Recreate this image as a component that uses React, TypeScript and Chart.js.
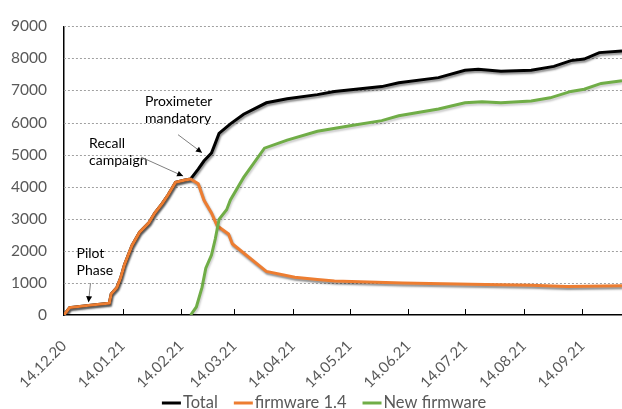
import React, { useEffect, useRef } from 'react';
import { Chart, registerables } from 'chart.js';

Chart.register(...registerables);

// x values are days since 14.12.20
const tickLabels = ['14.12.20', '14.01.21', '14.02.21', '14.03.21', '14.04.21', '14.05.21', '14.06.21', '14.07.21', '14.08.21', '14.09.21'];
const tickDays = [0, 31, 62, 90, 121, 151, 182, 212, 243, 274];
const lastDay = 295;

const totalDays = [0, 3, 13, 24, 25, 28, 30, 32, 34, 36, 40, 45, 48, 52, 55, 59, 64, 67, 71, 74, 78, 80, 82, 88, 95, 107, 118, 134, 143, 168, 177, 198, 212, 219, 231, 247, 259, 268, 275, 283, 295];
const totalValues = [0, 230, 300, 370, 660, 860, 1160, 1570, 1870, 2170, 2580, 2880, 3180, 3480, 3740, 4140, 4210, 4240, 4545, 4800, 5050, 5350, 5660, 5960, 6260, 6615, 6740, 6870, 6970, 7120, 7240, 7400, 7630, 7660, 7600, 7630, 7750, 7930, 7980, 8180, 8230];

const fw14Days = [0, 3, 13, 24, 25, 28, 30, 32, 34, 36, 40, 45, 48, 52, 55, 59, 64, 67, 71, 74, 78, 81, 87, 89, 107, 122, 134, 143, 179, 215, 247, 266, 295];
const fw14Values = [0, 230, 300, 370, 660, 860, 1160, 1570, 1870, 2170, 2580, 2880, 3180, 3480, 3740, 4140, 4210, 4240, 4090, 3585, 3180, 2780, 2525, 2220, 1360, 1180, 1110, 1060, 1000, 960, 930, 890, 910];

const newFwDays = [67, 70, 73, 75, 78, 80, 82, 86, 88, 95, 106, 118, 134, 152, 168, 177, 198, 212, 221, 231, 247, 257, 268, 275, 284, 295];
const newFwValues = [0, 250, 860, 1460, 1870, 2370, 2980, 3280, 3585, 4290, 5200, 5450, 5730, 5910, 6060, 6210, 6420, 6615, 6650, 6615, 6670, 6770, 6970, 7040, 7220, 7300];

const seriesNames = ['Total', 'firmware 1.4', 'New firmware'];
const seriesColors = ['#000000', '#ED7D31', '#70AD47'];

const annotations = [
  { lines: ['Pilot', 'Phase'], tipDay: 13, tipValue: 400 },
  { lines: ['Recall', 'campaign'], tipDay: 63, tipValue: 4330 },
  { lines: ['Proximeter', 'mandatory'], tipDay: 73, tipValue: 5060 },
];

const FONT = 'Lato, "Open Sans", sans-serif';

const pts = (xs: number[], ys: number[]) => xs.map((x, i) => ({ x, y: ys[i] }));

const gridPlugin = {
  id: 'dottedGrid',
  beforeDatasetsDraw(chart: any) {
    const ctx = chart.ctx;
    const ys = chart.scales.y;
    const area = chart.chartArea;
    ctx.save();
    ctx.strokeStyle = '#a0a0a0';
    ctx.lineWidth = 1;
    ctx.setLineDash([2, 2]);
    ys.ticks.forEach((_t: any, i: number) => {
      if (i === 0) return;
      const py = Math.round(ys.getPixelForTick(i)) + 0.5;
      ctx.beginPath();
      ctx.moveTo(area.left, py);
      ctx.lineTo(area.right, py);
      ctx.stroke();
    });
    ctx.restore();
  },
};

const shadowPlugin = {
  id: 'lineShadow',
  beforeDatasetDraw(chart: any, args: any) {
    const ctx = chart.ctx;
    ctx.save();
    const i = args.index;
    ctx.shadowColor = i === 2 ? 'rgba(0,0,0,0.2)' : 'rgba(0,0,0,0.45)';
    ctx.shadowBlur = 2;
    ctx.shadowOffsetX = 1;
    ctx.shadowOffsetY = 2;
  },
  afterDatasetDraw(chart: any) {
    chart.ctx.restore();
  },
};

const extrasPlugin = {
  id: 'extras',
  afterDraw(chart: any) {
    const ctx = chart.ctx;
    const xs = chart.scales.x;
    const ys = chart.scales.y;
    const area = chart.chartArea;
    ctx.save();
    // inside tick marks on x axis
    ctx.strokeStyle = '#000';
    ctx.lineWidth = 1;
    xs.ticks.forEach((_t: any, i: number) => {
      const px = Math.round(xs.getPixelForTick(i)) + 0.5;
      if (i === 0) return;
      ctx.beginPath();
      ctx.moveTo(px, area.bottom);
      ctx.lineTo(px, area.bottom - 6);
      ctx.stroke();
    });

    // annotations
    const offsets = [
      { tx: -12, ty: -49, sx: 2, sy: -19 },
      { tx: -94, ty: -33, sx: -42, sy: -19 },
      { tx: -57, ty: -51, sx: -24, sy: -18 },
    ];
    ctx.font = `14px ${FONT}`;
    ctx.textBaseline = 'middle';
    ctx.textAlign = 'left';
    annotations.forEach((a, k) => {
      const tipX = xs.getPixelForValue(a.tipDay);
      const tipY = ys.getPixelForValue(a.tipValue);
      const o = offsets[k];
      ctx.fillStyle = '#000';
      a.lines.forEach((ln, j) => ctx.fillText(ln, tipX + o.tx, tipY + o.ty + j * 17));
      const sx = tipX + o.sx;
      const sy = tipY + o.sy;
      ctx.strokeStyle = '#7f7f7f';
      ctx.lineWidth = 1;
      ctx.beginPath();
      ctx.moveTo(sx, sy);
      ctx.lineTo(tipX, tipY);
      ctx.stroke();
      const ang = Math.atan2(tipY - sy, tipX - sx);
      const L = 6, W = 3;
      ctx.fillStyle = '#000';
      ctx.beginPath();
      ctx.moveTo(tipX, tipY);
      ctx.lineTo(tipX - L * Math.cos(ang) + W * Math.sin(ang), tipY - L * Math.sin(ang) - W * Math.cos(ang));
      ctx.lineTo(tipX - L * Math.cos(ang) - W * Math.sin(ang), tipY - L * Math.sin(ang) + W * Math.cos(ang));
      ctx.closePath();
      ctx.fill();
    });

    // legend
    ctx.font = `16.5px ${FONT}`;
    const lineLen = 19, gapLT = 2, gapItems = 16;
    const widths = seriesNames.map((n) => lineLen + gapLT + ctx.measureText(n).width);
    const total = widths.reduce((a, b) => a + b, 0) + gapItems * (seriesNames.length - 1);
    let x = 324 - total / 2;
    const y = 403;
    seriesNames.forEach((n, i) => {
      ctx.strokeStyle = seriesColors[i];
      ctx.lineWidth = 3;
      ctx.beginPath();
      ctx.moveTo(x, y);
      ctx.lineTo(x + lineLen, y);
      ctx.stroke();
      ctx.fillStyle = '#595959';
      ctx.textBaseline = 'middle';
      ctx.fillText(n, x + lineLen + gapLT, y);
      x += widths[i] + gapItems;
    });
    ctx.restore();
  },
};

export default function App() {
  const ref = useRef<HTMLCanvasElement>(null);
  useEffect(() => {
    document.body.style.margin = '0';
    const canvas = ref.current!;
    const chart = new Chart(canvas, {
      type: 'line',
      data: {
        datasets: [
          { label: seriesNames[0], data: pts(totalDays, totalValues), borderColor: seriesColors[0], borderWidth: 3, pointRadius: 0, tension: 0, order: 2 },
          { label: seriesNames[1], data: pts(fw14Days, fw14Values), borderColor: seriesColors[1], borderWidth: 3, pointRadius: 0, tension: 0, order: 1 },
          { label: seriesNames[2], data: pts(newFwDays, newFwValues), borderColor: seriesColors[2], borderWidth: 3, pointRadius: 0, tension: 0, order: 0 },
        ],
      },
      options: {
        responsive: false,
        animation: false,
        layout: { padding: { top: 18, right: 0, bottom: 4, left: 0 } },
        plugins: { legend: { display: false }, tooltip: { enabled: false } },
        scales: {
          x: {
            type: 'linear',
            min: 0,
            max: lastDay,
            afterBuildTicks: (scale: any) => {
              scale.ticks = tickDays.map((v) => ({ value: v }));
            },
            afterFit: (scale: any) => {
              scale.height = 90;
            },
            grid: { display: false, drawTicks: false },
            border: { display: true, color: '#000', width: 1.5 },
            ticks: {
              autoSkip: false,
              minRotation: 45,
              maxRotation: 45,
              padding: 22,
              color: '#595959',
              font: { family: FONT, size: 15 },
              callback: (v: any) => tickLabels[tickDays.indexOf(v)] ?? '',
            },
          },
          y: {
            min: 0,
            max: 9000,
            afterFit: (scale: any) => {
              scale.width = 60;
            },
            ticks: { stepSize: 1000, padding: 17, color: '#595959', font: { family: FONT, size: 15.5 }, callback: (v: any) => String(v) },
            grid: { display: false, drawTicks: false },
            border: { display: true, color: '#000', width: 1.5 },
          },
        },
      },
      plugins: [gridPlugin, shadowPlugin, extrasPlugin],
    });
    return () => chart.destroy();
  }, []);
  return <canvas ref={ref} width={622} height={409} style={{ display: 'block' }} />;
}
